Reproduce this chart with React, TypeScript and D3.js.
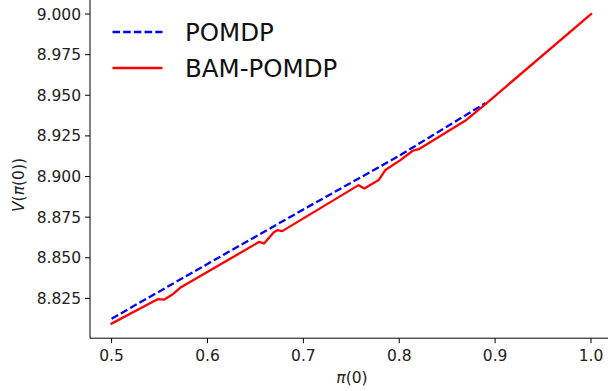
import React from "react";
import * as d3 from "d3";

const W = 608;
const H = 391;

// POMDP (blue dashed)
const pomdpX = [0.5, 0.6, 0.7, 0.8, 0.89];
const pomdpY = [8.8125, 8.8462, 8.8797, 8.9128, 8.9452];

// BAM-POMDP (red solid)
const bamX = [0.5, 0.548, 0.555, 0.563, 0.5715, 0.654, 0.659, 0.669, 0.673, 0.678, 0.7576, 0.7636, 0.7785, 0.7855, 0.8012, 0.8145, 0.8203, 0.87, 0.89, 1.0];
const bamY = [8.8095, 8.8245, 8.8243, 8.8272, 8.8315, 8.8598, 8.8588, 8.8655, 8.8670, 8.8664, 8.8947, 8.8927, 8.8978, 8.9040, 8.9101, 8.9160, 8.9168, 8.9348, 8.9446, 9.0];

const xTicks = [0.5, 0.6, 0.7, 0.8, 0.9, 1.0];
const yTicks = [8.825, 8.85, 8.875, 8.9, 8.925, 8.95, 8.975, 9.0];

const legendLabels = ["POMDP", "BAM-POMDP"];

export default function App() {
  const x = d3.scaleLinear().domain([0.4775, 1.0245]).range([90, 614.5]);
  const y = d3.scaleLinear().domain([8.8005, 9.0095]).range([338.2, -1.4]);
  const line = d3
    .line<[number, number]>()
    .x((d) => x(d[0]))
    .y((d) => y(d[1]));
  const pomdp = pomdpX.map((v, i) => [v, pomdpY[i]] as [number, number]);
  const bam = bamX.map((v, i) => [v, bamY[i]] as [number, number]);
  const font = "DejaVu Sans, sans-serif";
  const left = x.range()[0];
  const bottom = y.range()[0];

  return (
    <svg
      width={W}
      height={H}
      style={{ position: "absolute", left: 0, top: 0, background: "#fff" }}
      fontFamily={font}
    >
      <rect x={0} y={0} width={W} height={H} fill="#fff" />
      <path d={line(pomdp) || ""} fill="none" stroke="#0000ff" strokeWidth={2.3} strokeDasharray="7.5,3.2" />
      <path d={line(bam) || ""} fill="none" stroke="#ff0000" strokeWidth={2.3} strokeLinejoin="round" strokeLinecap="square" />

      {/* spines */}
      <line x1={left} x2={left} y1={0} y2={bottom} stroke="#000" strokeWidth={1} />
      <line x1={left} x2={W} y1={bottom} y2={bottom} stroke="#000" strokeWidth={1} />

      {xTicks.map((t) => (
        <g key={"x" + t}>
          <line x1={x(t)} x2={x(t)} y1={bottom} y2={bottom + 5} stroke="#000" strokeWidth={1} />
          <text x={x(t)} y={bottom + 23} textAnchor="middle" fontSize={15.5} fill="#222">
            {t.toFixed(1)}
          </text>
        </g>
      ))}
      {yTicks.map((t) => (
        <g key={"y" + t}>
          <line x1={left - 5} x2={left} y1={y(t)} y2={y(t)} stroke="#000" strokeWidth={1} />
          <text x={left - 9} y={y(t)} dy="0.36em" textAnchor="end" fontSize={15.5} fill="#222">
            {t.toFixed(3)}
          </text>
        </g>
      ))}

      <text x={352} y={383} textAnchor="middle" fontSize={15.5} fill="#222">
        <tspan fontStyle="italic">π</tspan>(0)
      </text>
      <text
        transform={`translate(24,${185}) rotate(-90)`}
        textAnchor="middle"
        fontSize={15.5}
        fill="#222"
      >
        <tspan fontStyle="italic">V</tspan>(<tspan fontStyle="italic">π</tspan>(0))
      </text>

      {/* legend */}
      <line x1={112.5} x2={162.5} y1={32} y2={32} stroke="#0000ff" strokeWidth={2.3} strokeDasharray="7.5,3.2" />
      <text x={185} y={32} dy="0.36em" fontSize={24.5} fill="#111">
        {legendLabels[0]}
      </text>
      <line x1={112.5} x2={162.5} y1={68} y2={68} stroke="#ff0000" strokeWidth={2.3} />
      <text x={185} y={68} dy="0.36em" fontSize={24.5} fill="#111">
        {legendLabels[1]}
      </text>
    </svg>
  );
}
